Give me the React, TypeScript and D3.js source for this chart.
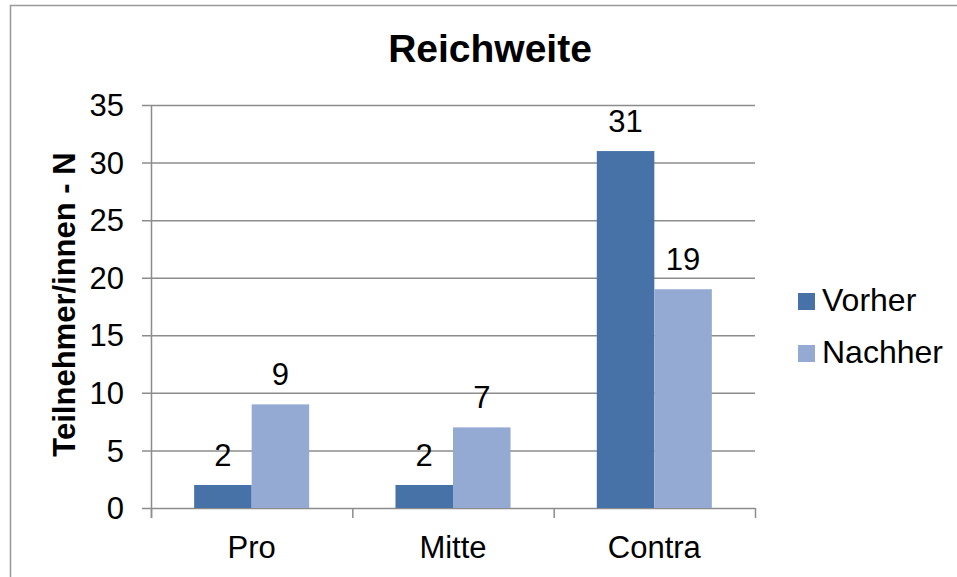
import React from "react";
import * as d3 from "d3";

const categories = ["Pro", "Mitte", "Contra"];
const seriesNames = ["Vorher", "Nachher"];
const vorher = [2, 2, 31];
const nachher = [9, 7, 19];
const yTicks = [0, 5, 10, 15, 20, 25, 30, 35];
const colors = ["#4672A8", "#95AAD3"];

const App = () => {
  const width = 957;
  const height = 577;
  const left = 151;
  const right = 755;
  const top = 105;
  const bottom = 508;
  const font = "'Liberation Sans', Arial, sans-serif";

  const x0 = d3.scaleBand().domain(categories).range([left, right]).padding(0);
  const x1 = d3
    .scaleBand()
    .domain(seriesNames)
    .range([0, x0.bandwidth()])
    .paddingInner(0)
    .paddingOuter(0.75);
  const y = d3.scaleLinear().domain([0, 35]).range([bottom, top]);

  const values = [vorher, nachher];
  const grey = "#8c8c8c";

  // boundaries between categories for the x ticks
  const xTickPos = categories.map((c) => x0(c) as number).concat([right]);

  return (
    <svg
      width={width}
      height={height}
      style={{ position: "absolute", left: 0, top: 0, background: "#fff" }}
      fontFamily={font}
    >
      <rect x={10.5} y={5.5} width={990} height={620} fill="none" stroke="#999" strokeWidth={1.5} />

      <text x={490} y={62} textAnchor="middle" fontSize={39} fontWeight="bold" fill="#000">
        Reichweite
      </text>

      <text
        transform={`translate(75, ${(top + bottom) / 2 - 2}) rotate(-90)`}
        textAnchor="middle"
        fontSize={31}
        fontWeight="bold"
        fill="#000"
      >
        Teilnehmer/innen - N
      </text>

      {yTicks.map((t) => (
        <g key={t}>
          <line x1={left - 9} x2={right} y1={y(t) + 0.5} y2={y(t) + 0.5} stroke={grey} strokeWidth={1.5} />
          <text x={124} y={y(t)} dy="0.36em" textAnchor="end" fontSize={31} fill="#000">
            {t}
          </text>
        </g>
      ))}

      <line x1={left + 0.5} x2={left + 0.5} y1={top} y2={bottom + 10} stroke={grey} strokeWidth={1.5} />
      {xTickPos.map((p, i) => (
        <line key={i} x1={p + 0.5} x2={p + 0.5} y1={bottom} y2={bottom + 10} stroke={grey} strokeWidth={1.5} />
      ))}

      {categories.map((c, ci) => (
        <g key={c} transform={`translate(${x0(c)},0)`}>
          {seriesNames.map((s, si) => {
            const v = values[si][ci];
            const bx = x1(s) as number;
            return (
              <g key={s}>
                <rect x={bx} y={y(v)} width={x1.bandwidth()} height={y(0) - y(v)} fill={colors[si]} />
                <text
                  x={bx + x1.bandwidth() / 2}
                  y={y(v) - 19}
                  textAnchor="middle"
                  fontSize={31}
                  fill="#000"
                >
                  {v}
                </text>
              </g>
            );
          })}
          <text x={x0.bandwidth() / 2} y={558} textAnchor="middle" fontSize={31} fill="#000">
            {c}
          </text>
        </g>
      ))}

      {seriesNames.map((s, i) => (
        <g key={s} transform={`translate(798, ${293 + i * 52})`}>
          <rect width={17} height={17} fill={colors[i]} />
          <text x={24} y={18} fontSize={32} fill="#000">
            {s}
          </text>
        </g>
      ))}
    </svg>
  );
};

export default App;
